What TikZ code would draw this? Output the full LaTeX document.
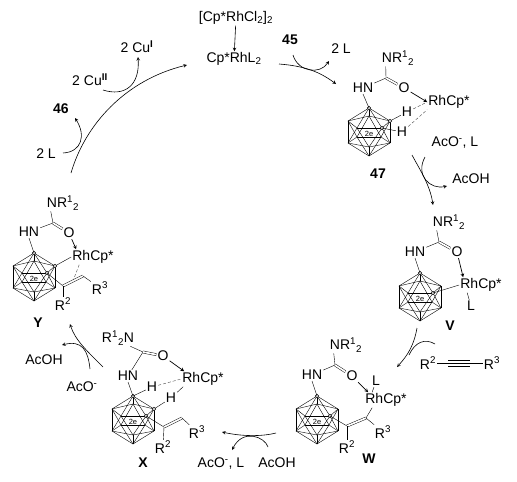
\documentclass[tikz,border=0pt]{standalone}
\usepackage{fontspec}
\usetikzlibrary{calc}
\setmainfont{Liberation Sans}
\newcommand{\hi}[1]{\textsuperscript{#1}}
\newcommand{\lo}[1]{\textsubscript{#1}}
\tikzset{
  lbl/.style={inner sep=1pt, font=\fontsize{14}{16}\selectfont},
  num/.style={inner sep=1pt, font=\fontsize{14}{16}\selectfont\bfseries},
  dbl/.style={double, double distance=1.7pt, line width=0.45pt},
  coord/.style={-stealth, line width=0.7pt},
  rxn/.style={-stealth, line width=0.6pt},
  side/.style={line width=0.6pt},
  weak/.style={densely dashed, line width=0.4pt, gray!60!black},
  vdot/.style={draw, circle, fill=white, inner sep=0pt, minimum size=3.5pt, line width=0.4pt},
  cage/.pic={
    \coordinate (-t)  at (0,0);
    \coordinate (-ul) at (-21,13);
    \coordinate (-ll) at (-21,35);
    \coordinate (-b)  at (0,48);
    \coordinate (-lr) at (21,35);
    \coordinate (-ur) at (21,13);
    \coordinate (-a)  at (-12,20);
    \coordinate (-c)  at (13,20);
    \coordinate (-k)  at (0,8);
    \coordinate (-f)  at (0,39);
    \coordinate (-m)  at (12,29);
    \coordinate (-n)  at (-12,29);
    \foreach \v/\w in {t/ul,t/a,t/c,t/ur,t/k,ul/a,a/c,c/ur,ur/k,k/ul,
                       b/ll,b/f,b/lr,b/m,b/n,ll/f,f/lr,lr/m,m/n,n/ll,
                       k/n,k/m,ul/n,ul/ll,a/ll,a/f,c/f,c/lr,ur/lr,ur/m} {
      \draw[line width=0.4pt] (-\v) -- (-\w);
    }
    \node[fill=white, inner sep=0.3pt, font=\fontsize{7.5}{8}\selectfont] at (0,26) {2e};
    \node[vdot] at (-t) {};
    \node[vdot] at (-c) {};
  }
}
\begin{document}
\begin{tikzpicture}[x=1pt, y=-1pt]
  \useasboundingbox (0,0) rectangle (517,482);

  % catalyst and top of the cycle
  \node[lbl] (dimer) at (236,18)  {[Cp*RhCl\lo{2}]\lo{2}};
  \node[lbl] (rhl)   at (234,59)  {Cp*RhL\lo{2}};
  \node[num] (n45)   at (290,40)  {45};
  \node[lbl] (l45)   at (341,49)  {2 L};
  \node[lbl] (cu1)   at (137,47)  {2 Cu\hi{\textbf{I}}};
  \node[lbl] (cu2)   at (90,80)   {2 Cu\hi{\textbf{II}}};
  \node[num] (n46)   at (61,109)  {46};
  \node[lbl] (l46)   at (46,154)  {2 L};
  \draw[rxn] (dimer) -- (rhl);

  % 47
  \node[lbl] (nrd) at (398,58)  {NR\hi{1}\lo{2}};
  \node[lbl] (hnd) at (363,88)  {HN};
  \node[lbl] (od)  at (404,88)  {O};
  \node[lbl] (rhd) at (449,102) {RhCp*};
  \node[lbl] (h1d) at (407,112) {H};
  \node[lbl] (h2d) at (402,132) {H};
  \node[num] (n47) at (378,174) {47};
  \coordinate (cd) at (386,78);
  \pic (gd) at (369,108) {cage};
  \draw (cd) -- ([xshift=5pt]nrd.south west);
  \draw (cd) -- (hnd);
  \draw[dbl] (cd) -- (od);
  \draw (hnd.south) -- (gd-t);
  \draw[coord] (od) -- (rhd.west);
  \draw (h1d) -- (gd-ur);
  \node[vdot] at (gd-ur) {};
  \draw (h2d) -- (gd-c);
  \draw[weak] (h1d) -- (rhd.west);
  \draw[weak] (h2d) -- (rhd.south west);

  % V
  \node[lbl] (nrv) at (449,222) {NR\hi{1}\lo{2}};
  \node[lbl] (hnv) at (415,252) {HN};
  \node[lbl] (ov)  at (457,252) {O};
  \node[lbl] (rhv) at (481,285) {RhCp*};
  \node[lbl] (lv)  at (471,306) {L};
  \node[num] (nv)  at (450,326) {V};
  \coordinate (cv) at (439,242);
  \pic (gv) at (420,273) {cage};
  \draw (cv) -- ([xshift=5pt]nrv.south west);
  \draw (cv) -- (hnv);
  \draw[dbl] (cv) -- (ov);
  \draw (hnv.south) -- (gv-t);
  \draw[coord] (ov) -- ([xshift=4pt]rhv.north west);
  \draw (gv-c) -- (rhv.west);
  \draw ([xshift=8pt]rhv.south west) -- (lv);

  % W
  \node[lbl] (nrw) at (346,345) {NR\hi{1}\lo{2}};
  \node[lbl] (hnw) at (312,375) {HN};
  \node[lbl] (ow)  at (352,376) {O};
  \node[lbl] (lw)  at (376,381) {L};
  \node[lbl] (rhw) at (386,400) {RhCp*};
  \node[lbl] (r3w) at (383,432) {R\hi{3}};
  \node[lbl] (r2w) at (347,447) {R\hi{2}};
  \node[num] (nw)  at (369,459) {W};
  \coordinate (cw) at (335,365);
  \coordinate (v1w) at (347,426);
  \coordinate (v2w) at (366,418);
  \pic (gw) at (317,396) {cage};
  \draw (cw) -- ([xshift=5pt]nrw.south west);
  \draw (cw) -- (hnw);
  \draw[dbl] (cw) -- (ow);
  \draw (hnw.south) -- (gw-t);
  \draw[coord] (ow) -- ([xshift=4pt]rhw.north west);
  \draw (lw) -- ([xshift=8pt]rhw.north west);
  \draw (gw-c) -- (v1w);
  \draw[dbl] (v1w) -- (v2w);
  \draw (v2w) -- ([xshift=8pt]rhw.south west);
  \draw (v2w) -- (r3w);
  \draw (v1w) -- (r2w);

  % alkyne
  \node[lbl] (r2a) at (428,363) {R\hi{2}};
  \node[lbl] (r3a) at (492,363) {R\hi{3}};
  \coordinate (ta) at (448,363);
  \coordinate (tb) at (470,363);
  \draw (r2a) -- (r3a);
  \draw ([yshift=3pt]ta) -- ([yshift=3pt]tb);
  \draw ([yshift=-3pt]ta) -- ([yshift=-3pt]tb);

  % X
  \node[lbl] (nrx) at (118,338) {R\hi{1}\lo{2}N};
  \node[lbl] (hnx) at (128,376) {HN};
  \node[lbl] (ox)  at (163,356) {O};
  \node[lbl] (rhx) at (203,379) {RhCp*};
  \node[lbl] (h1x) at (152,387) {H};
  \node[lbl] (h2x) at (171,398) {H};
  \node[lbl] (r3x) at (197,432) {R\hi{3}};
  \node[lbl] (r2x) at (163,447) {R\hi{2}};
  \node[num] (nx)  at (143,463) {X};
  \coordinate (cx) at (143,352);
  \coordinate (v1x) at (164,427);
  \coordinate (v2x) at (182,418);
  \pic (gx) at (133,396) {cage};
  \draw (cx) -- ([xshift=-5pt]nrx.south east);
  \draw (cx) -- (hnx);
  \draw[dbl] (cx) -- (ox);
  \draw (hnx.south) -- (gx-t);
  \draw[coord] (ox) -- ([xshift=3pt]rhx.north west);
  \draw[weak] (h1x) -- (rhx.west);
  \draw (h2x) -- ([xshift=2pt]rhx.south west);
  \draw (h1x) -- (gx-t);
  \draw (h2x) -- (gx-ur);
  \node[vdot] at (gx-ur) {};
  \draw (gx-c) -- (v1x);
  \draw[dbl] (v1x) -- (v2x);
  \draw (v2x) -- (r3x);
  \draw (v1x) -- (r2x);

  % Y
  \node[lbl] (nry) at (63,203)  {NR\hi{1}\lo{2}};
  \node[lbl] (hny) at (29,232)  {HN};
  \node[lbl] (oy)  at (69,233)  {O};
  \node[lbl] (rhy) at (93,257)  {RhCp*};
  \node[lbl] (r3y) at (100,288) {R\hi{3}};
  \node[lbl] (r2y) at (63,304)  {R\hi{2}};
  \node[num] (ny)  at (38,323)  {Y};
  \coordinate (cy) at (53,223);
  \coordinate (v1y) at (63,286);
  \coordinate (v2y) at (83,276);
  \pic (gy) at (34,253) {cage};
  \draw (cy) -- ([xshift=5pt]nry.south west);
  \draw (cy) -- (hny);
  \draw[dbl] (cy) -- (oy);
  \draw (hny.south) -- (gy-t);
  \draw[coord] (oy) -- ([xshift=5pt]rhy.north west);
  \draw (gy-ur) -- (rhy.west);
  \node[vdot] at (gy-ur) {};
  \draw[weak] ([xshift=8pt]rhy.south west) -- ($(v1y)!0.5!(v2y)$);
  \draw (gy-c) -- (v1y);
  \draw[dbl] (v1y) -- (v2y);
  \draw (v2y) -- (r3y);
  \draw (v1y) -- (r2y);

  % small species along the cycle
  \node[lbl] (aco1)  at (455,143) {AcO\hi{-}, L};
  \node[lbl] (acoh1) at (471,179) {AcOH};
  \node[lbl] (acoh2) at (277,463) {AcOH};
  \node[lbl] (aco2)  at (221,464) {AcO\hi{-}, L};
  \node[lbl] (aco3)  at (82,387)  {AcO\hi{-}};
  \node[lbl] (acoh3) at (44,360)  {AcOH};

  % cycle arrows
  \coordinate (a1s) at (279,64);   \coordinate (a1e) at (336,84);
  \coordinate (b1s) at (293,55);   \coordinate (b1e) at (329,61);
  \coordinate (a2s) at (412,155);  \coordinate (a2e) at (433,205);
  \coordinate (b2s) at (425,157);  \coordinate (b2e) at (447,186);
  \coordinate (a3s) at (417,328);  \coordinate (a3e) at (397,367);
  \coordinate (b3s) at (435,344);  \coordinate (b3e) at (409,355);
  \coordinate (a4s) at (276,433);  \coordinate (a4e) at (222,432);
  \coordinate (b4s) at (268,447);  \coordinate (b4e) at (232,450);
  \coordinate (a5s) at (103,367);  \coordinate (a5e) at (70,324);
  \coordinate (b5s) at (90,369);   \coordinate (b5e) at (62,345);
  \coordinate (a6s) at (71,173);   \coordinate (a6e) at (187,65);
  \coordinate (b6s) at (63,153);   \coordinate (b6e) at (75,118);
  \coordinate (b7s) at (103,90);   \coordinate (b7e) at (138,57);

  \draw[rxn] (a1s) .. controls (305,66) and (320,72) .. (a1e);
  \draw[rxn] (b1s) .. controls (298,72) and (320,75) .. (b1e);
  \draw[rxn] (a2s) .. controls (420,170) and (430,185) .. (a2e);
  \draw[rxn] (b2s) .. controls (415,175) and (430,190) .. (b2e);
  \draw[rxn] (a3s) .. controls (414,345) and (408,355) .. (a3e);
  \draw[side] (b3s) .. controls (425,338) and (415,342) .. (b3e);
  \draw[rxn] (a4s) .. controls (260,437) and (240,436) .. (a4e);
  \draw[rxn] (b4s) .. controls (265,437) and (243,428) .. (b4e);
  \draw[rxn] (a5s) .. controls (88,352) and (75,340) .. (a5e);
  \draw[rxn] (b5s) .. controls (88,350) and (82,340) .. (b5e);
  \draw[rxn] (a6s) .. controls (85,125) and (125,80) .. (a6e);
  \draw[rxn] (b6s) .. controls (82,152) and (86,135) .. (b6e);
  \draw[rxn] (b7s) .. controls (125,97) and (140,85) .. (b7e);
\end{tikzpicture}
\end{document}
